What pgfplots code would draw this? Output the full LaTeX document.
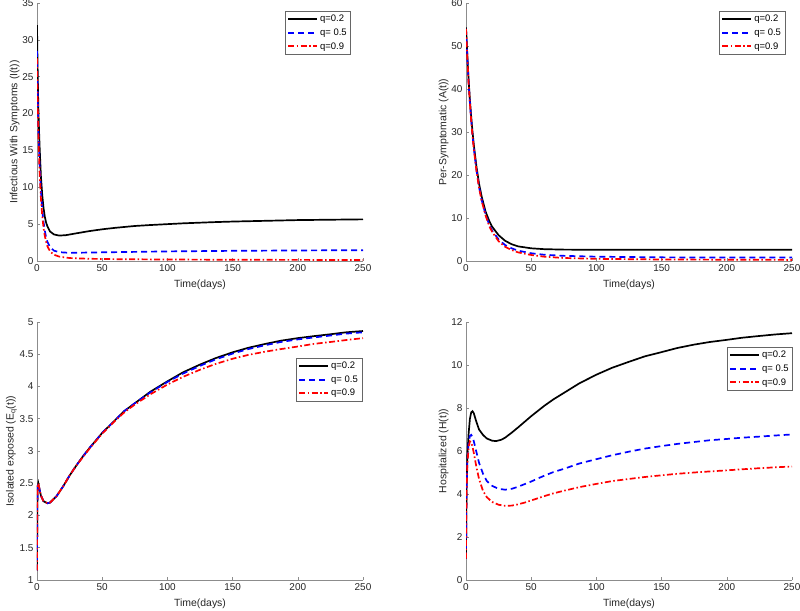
\documentclass[border=0pt]{standalone}
\usepackage{pgfplots}
\pgfplotsset{compat=1.18}
\usepackage{fontspec}
\setmainfont{Liberation Sans}
\definecolor{axgray}{gray}{0.55}
\definecolor{txtgray}{gray}{0.15}
\pgfplotsset{
 myax/.style={
  scale only axis, width=326bp, height=258bp,
  axis lines*=left, xmin=0, xmax=250, xtick={0,50,...,250},
  tick align=inside, major tick length=3bp,
  axis line style={axgray, line width=0.8pt},
  major tick style={axgray, line width=0.6pt},
  tick label style={font=\fontsize{10}{12}\selectfont, color=txtgray},
  label style={font=\fontsize{10.5}{12}\selectfont, color=txtgray},
  /pgf/number format/assume math mode=true,
  xlabel={Time(days)},
  xlabel style={yshift=-2bp},
  ylabel style={yshift=-4bp},
  legend cell align=left,
  legend style={font=\fontsize{9.5}{11}\selectfont, draw=black!60, line width=0.5pt, inner sep=2pt, row sep=1.5bp, anchor=north east},
  legend image code/.code={\draw[#1, line width=2pt] (0bp,0bp) -- (29bp,0bp);},
 },
 sq/.style={black, solid, line width=1.7pt},
 sb/.style={blue, line width=1.7pt, dash pattern=on 6bp off 4bp},
 sr/.style={red, line width=1.7pt, dash pattern=on 6bp off 2.5bp on 1.5bp off 2.5bp},
}
\begin{document}
\begin{tikzpicture}
\useasboundingbox (0,0) rectangle (800bp,611bp);
% Top-left: I(t)
\begin{axis}[myax, at={(37bp,350bp)}, anchor=south west,
  ymin=0, ymax=35, ytick={0,5,...,35},
  ylabel={Infectious With Symptoms (I(t))},
  legend style={at={(axis description cs:0.963,0.969)}}]
\addplot[sq] coordinates {(0,32) (0.25,28.8) (0.5,26) (1,21) (1.5,18) (2,15.5) (3,11.5) (4,9) (5,7.2) (6,6) (7,5.2) (8,4.7) (10,4.0) (13,3.6) (17,3.45) (22,3.5) (30,3.75) (40,4.05) (50,4.3) (60,4.5) (75,4.75) (87,4.88) (100,5.0) (112,5.11) (125,5.2) (137,5.28) (150,5.35) (175,5.45) (200,5.55) (225,5.6) (250,5.65)};
\addlegendentry{q=0.2}
\addplot[sb] coordinates {(0,28.5) (0.25,25.5) (0.5,23) (1,18.5) (1.5,15.5) (2,13) (3,9.5) (4,7) (5,5.3) (6,4.1) (7,3.2) (8,2.6) (10,1.9) (13,1.4) (17,1.2) (25,1.1) (40,1.15) (60,1.2) (100,1.3) (150,1.38) (200,1.43) (250,1.47)};
\addlegendentry{q= 0.5}
\addplot[sr] coordinates {(0,27.5) (0.25,24.5) (0.5,22) (1,17.5) (1.5,14.5) (2,12) (3,8.5) (4,6.2) (5,4.5) (6,3.4) (7,2.6) (8,2.0) (10,1.3) (13,0.85) (17,0.6) (25,0.4) (40,0.3) (60,0.25) (100,0.2) (150,0.17) (200,0.15) (250,0.14)};
\addlegendentry{q=0.9}
\end{axis}
% Top-right: A(t)
\begin{axis}[myax, at={(466bp,350bp)}, anchor=south west,
  ymin=0, ymax=60, ytick={0,10,...,60},
  ylabel={Per-Symptomatic (A(t))},
  legend style={at={(axis description cs:0.979,0.969)}}]
\addplot[sq] coordinates {(0,54.3) (1,48) (2,42) (3,37.5) (4,33.5) (5,30) (6,27) (8,22) (10,18) (12,15) (15,11.5) (18,9.2) (20,8.0) (25,6.0) (30,4.7) (35,3.9) (40,3.4) (50,2.95) (60,2.75) (75,2.65) (100,2.6) (150,2.6) (200,2.6) (250,2.6)};
\addlegendentry{q=0.2}
\addplot[sb] coordinates {(0,54) (1,47.6) (2,41.5) (3,36.8) (4,32.7) (5,29.2) (6,26.2) (8,21.2) (10,17.2) (12,14.2) (15,10.8) (18,8.3) (20,7.1) (25,5.0) (30,3.7) (35,2.95) (40,2.4) (50,1.8) (60,1.45) (75,1.2) (100,1.0) (150,0.85) (200,0.8) (250,0.8)};
\addlegendentry{q= 0.5}
\addplot[sr] coordinates {(0,54) (1,47.5) (2,41.3) (3,36.6) (4,32.5) (5,29) (6,26) (8,21) (10,17) (12,14) (15,10.6) (18,8.0) (20,6.8) (25,4.6) (30,3.3) (35,2.55) (40,2.0) (50,1.4) (60,1.0) (75,0.7) (100,0.5) (150,0.35) (200,0.3) (250,0.25)};
\addlegendentry{q=0.9}
\end{axis}
% Bottom-left: Eq(t)
\begin{axis}[myax, at={(37bp,31bp)}, anchor=south west,
  ymin=1, ymax=5, ytick={1,1.5,...,5},
  ylabel={Isolated exposed (E\textsubscript{q}(t))},
  legend style={at={(axis description cs:0.997,0.861)}}]
\addplot[sq] coordinates {(0,1.15) (0.1,1.6) (0.2,2.0) (0.35,2.3) (0.5,2.45) (1,2.5) (2,2.4) (3,2.31) (5,2.22) (8,2.19) (10,2.2) (15,2.3) (20,2.45) (25,2.62) (30,2.77) (35,2.91) (40,3.04) (45,3.16) (50,3.28) (55,3.38) (60,3.48) (67,3.62) (75,3.74) (87,3.92) (100,4.08) (112,4.22) (125,4.34) (137,4.44) (150,4.53) (162,4.6) (175,4.66) (187,4.71) (200,4.75) (212,4.78) (225,4.81) (237,4.84) (250,4.86)};
\addlegendentry{q=0.2}
\addplot[sb] coordinates {(0,1.15) (0.1,1.6) (0.2,2.0) (0.35,2.3) (0.5,2.45) (1,2.5) (2,2.4) (3,2.31) (5,2.22) (8,2.19) (10,2.2) (15,2.3) (20,2.45) (25,2.62) (30,2.77) (35,2.91) (40,3.04) (45,3.16) (50,3.28) (55,3.38) (60,3.48) (67,3.62) (75,3.74) (87,3.91) (100,4.07) (112,4.2) (125,4.32) (137,4.42) (150,4.51) (162,4.58) (175,4.64) (187,4.69) (200,4.73) (212,4.76) (225,4.79) (237,4.82) (250,4.84)};
\addlegendentry{q= 0.5}
\addplot[sr] coordinates {(0,1.15) (0.1,1.6) (0.2,2.0) (0.35,2.3) (0.5,2.45) (1,2.5) (2,2.4) (3,2.31) (5,2.22) (8,2.19) (10,2.2) (15,2.3) (20,2.45) (25,2.62) (30,2.77) (35,2.9) (40,3.03) (45,3.15) (50,3.27) (55,3.37) (60,3.47) (67,3.6) (75,3.72) (87,3.88) (100,4.03) (112,4.15) (125,4.26) (137,4.35) (150,4.43) (162,4.49) (175,4.54) (187,4.58) (200,4.62) (212,4.66) (225,4.69) (237,4.72) (250,4.75)};
\addlegendentry{q=0.9}
\end{axis}
% Bottom-right: H(t)
\begin{axis}[myax, at={(466bp,31bp)}, anchor=south west,
  ymin=0, ymax=12, ytick={0,2,...,12},
  ylabel={Hospitalized (H(t))},
  legend style={at={(axis description cs:1.003,0.903)}}]
\addplot[sq] coordinates {(0,1) (0.25,3.2) (0.5,4.5) (1,5.8) (2,6.8) (3,7.5) (4,7.8) (5,7.85) (6,7.75) (8,7.35) (10,7.0) (13,6.75) (16,6.58) (20,6.48) (23,6.46) (27,6.52) (30,6.62) (35,6.85) (40,7.1) (45,7.36) (50,7.62) (55,7.86) (60,8.1) (67,8.4) (75,8.7) (87,9.15) (100,9.55) (112,9.87) (125,10.15) (137,10.4) (150,10.6) (162,10.79) (175,10.95) (187,11.07) (200,11.17) (212,11.27) (225,11.35) (237,11.42) (250,11.48)};
\addlegendentry{q=0.2}
\addplot[sb] coordinates {(0,1) (0.25,3.1) (0.5,4.3) (1,5.5) (2,6.4) (3,6.7) (4,6.75) (5,6.65) (6,6.45) (8,5.95) (10,5.45) (13,4.95) (16,4.6) (20,4.38) (25,4.24) (30,4.2) (35,4.24) (40,4.34) (45,4.46) (50,4.58) (55,4.72) (60,4.85) (67,5.02) (75,5.17) (87,5.42) (100,5.62) (112,5.8) (125,5.97) (137,6.11) (150,6.23) (162,6.33) (175,6.42) (187,6.5) (200,6.56) (212,6.62) (225,6.67) (237,6.72) (250,6.77)};
\addlegendentry{q= 0.5}
\addplot[sr] coordinates {(0,1) (0.25,3.0) (0.5,4.2) (1,5.3) (2,6.2) (3,6.45) (4,6.4) (5,6.2) (6,5.9) (8,5.25) (10,4.7) (13,4.15) (16,3.85) (20,3.63) (25,3.5) (30,3.45) (35,3.46) (40,3.52) (45,3.6) (50,3.7) (55,3.8) (60,3.9) (67,4.03) (75,4.15) (87,4.32) (100,4.47) (112,4.6) (125,4.7) (137,4.79) (150,4.87) (162,4.94) (175,5.0) (187,5.05) (200,5.1) (212,5.15) (225,5.2) (237,5.24) (250,5.28)};
\addlegendentry{q=0.9}
\end{axis}
\end{tikzpicture}
\end{document}
